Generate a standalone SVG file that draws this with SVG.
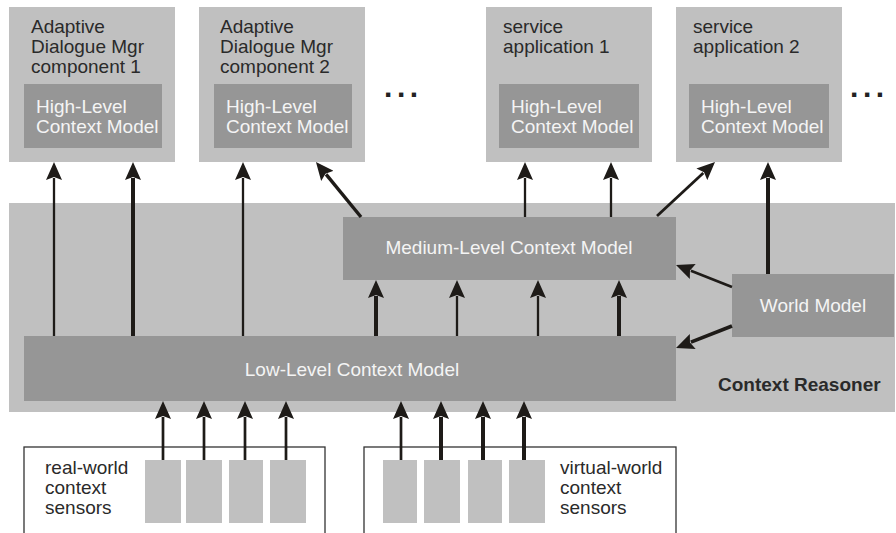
<svg xmlns="http://www.w3.org/2000/svg" width="896" height="533" viewBox="0 0 896 533">
<style>
.light{fill:#c0c0c0}
.dark{fill:#969696}
.t{font-family:"Liberation Sans",Arial,sans-serif;font-size:19px;fill:#2a2a2a}
.w{font-family:"Liberation Sans",Arial,sans-serif;font-size:19px;fill:#f4f4f4}
.b{font-family:"Liberation Sans",Arial,sans-serif;font-size:19px;font-weight:bold;fill:#2a2a2a}
.dots{font-family:"Liberation Sans",Arial,sans-serif;font-size:30px;font-weight:bold;fill:#222;letter-spacing:4.6px}
.outline{fill:none;stroke:#333;stroke-width:1.3}
.a{stroke:#1e1b18;fill:none;marker-end:url(#ah)}
.thin{stroke-width:2.3}
.thick{stroke-width:4}
</style>
<defs>
<marker id="ah" viewBox="0 0 18 16" markerWidth="18" markerHeight="16" markerUnits="userSpaceOnUse" refX="2" refY="8" orient="auto">
<path d="M0,0 L18,8 L0,16 L3,8 Z" fill="#1e1b18"/>
</marker>
</defs>
<rect width="896" height="533" fill="#fff"/>

<g id="context-reasoner">
<rect class="light" x="9" y="203" width="886" height="209"/>
<text class="b" x="718" y="391">Context Reasoner</text>
</g>

<g id="adm1">
<rect class="light" x="9" y="7" width="166" height="155"/>
<text class="t" x="31" y="33">Adaptive</text>
<text class="t" x="31" y="53">Dialogue Mgr</text>
<text class="t" x="31" y="73">component 1</text>
<rect class="dark" x="24" y="84" width="138" height="64"/>
<text class="w" x="36" y="113">High-Level</text>
<text class="w" x="36" y="133">Context Model</text>
</g>

<g id="adm2">
<rect class="light" x="199" y="7" width="166" height="155"/>
<text class="t" x="220" y="33">Adaptive</text>
<text class="t" x="220" y="53">Dialogue Mgr</text>
<text class="t" x="220" y="73">component 2</text>
<rect class="dark" x="214" y="84" width="138" height="64"/>
<text class="w" x="226" y="113">High-Level</text>
<text class="w" x="226" y="133">Context Model</text>
</g>

<g id="dots1"><text class="dots" x="384" y="97">...</text></g>

<g id="service1">
<rect class="light" x="486" y="7" width="166" height="155"/>
<text class="t" x="503" y="33">service</text>
<text class="t" x="503" y="53">application 1</text>
<rect class="dark" x="499" y="84" width="140" height="64"/>
<text class="w" x="511" y="113">High-Level</text>
<text class="w" x="511" y="133">Context Model</text>
</g>

<g id="service2">
<rect class="light" x="676" y="7" width="166" height="155"/>
<text class="t" x="693" y="33">service</text>
<text class="t" x="693" y="53">application 2</text>
<rect class="dark" x="689" y="84" width="140" height="64"/>
<text class="w" x="701" y="113">High-Level</text>
<text class="w" x="701" y="133">Context Model</text>
</g>

<g id="dots2"><text class="dots" x="850" y="97">...</text></g>

<g id="medium">
<rect class="dark" x="343" y="217" width="333" height="63"/>
<text class="w" x="509" y="254" text-anchor="middle">Medium-Level Context Model</text>
</g>

<g id="world">
<rect class="dark" x="732" y="274" width="162" height="63"/>
<text class="w" x="813" y="312" text-anchor="middle">World Model</text>
</g>

<g id="low">
<rect class="dark" x="24" y="336" width="652" height="65"/>
<text class="w" x="352" y="376" text-anchor="middle">Low-Level Context Model</text>
</g>

<g id="real-sensors">
<rect class="outline" x="24" y="447" width="301" height="100"/>
<text class="t" x="45" y="474">real-world</text>
<text class="t" x="45" y="494">context</text>
<text class="t" x="45" y="514">sensors</text>
<rect class="light" x="145" y="460" width="36" height="63"/>
<rect class="light" x="186" y="460" width="36" height="63"/>
<rect class="light" x="229" y="460" width="34" height="63"/>
<rect class="light" x="270" y="460" width="36" height="63"/>
</g>

<g id="virtual-sensors">
<rect class="outline" x="364" y="447" width="312" height="100"/>
<text class="t" x="560" y="474">virtual-world</text>
<text class="t" x="560" y="494">context</text>
<text class="t" x="560" y="514">sensors</text>
<rect class="light" x="383" y="460" width="34" height="63"/>
<rect class="light" x="424" y="460" width="36" height="63"/>
<rect class="light" x="468" y="460" width="34" height="63"/>
<rect class="light" x="509" y="460" width="36" height="63"/>
</g>

<g id="connectors">
<line class="a thin" x1="54" y1="336" x2="54" y2="178"/>
<line class="a thick" x1="133" y1="336" x2="133" y2="178"/>
<line class="a thin" x1="243" y1="336" x2="243" y2="178"/>
<line class="a thick" x1="361" y1="217" x2="326.1" y2="174.4" style="stroke-width:3.4"/>
<line class="a thin" x1="525" y1="217" x2="525" y2="178"/>
<line class="a thin" x1="611" y1="217" x2="611" y2="178"/>
<line class="a thin" x1="657" y1="216" x2="703.3" y2="172.9" style="stroke-width:2.8"/>
<line class="a thick" x1="768" y1="274" x2="768" y2="178"/>
<line class="a thick" x1="376" y1="336" x2="376" y2="296"/>
<line class="a thin" x1="457" y1="336" x2="457" y2="296"/>
<line class="a thin" x1="538" y1="336" x2="538" y2="296"/>
<line class="a thick" x1="619" y1="336" x2="619" y2="296"/>
<line class="a thin" x1="732" y1="287" x2="690.9" y2="270.8" style="stroke-width:2.6"/>
<line class="a thick" x1="732" y1="326" x2="690.9" y2="342.2" style="stroke-width:3.6"/>
<line class="a thin" x1="163" y1="460" x2="163" y2="417" style="stroke-width:2.7"/>
<line class="a thin" x1="204" y1="460" x2="204" y2="417" style="stroke-width:2.7"/>
<line class="a thin" x1="245" y1="460" x2="245" y2="417" style="stroke-width:2.7"/>
<line class="a thin" x1="286" y1="460" x2="286" y2="417" style="stroke-width:2.7"/>
<line class="a thin" x1="401" y1="460" x2="401" y2="417" style="stroke-width:2.7"/>
<line class="a thick" x1="441" y1="460" x2="441" y2="417"/>
<line class="a thick" x1="483" y1="460" x2="483" y2="417"/>
<line class="a thick" x1="524" y1="460" x2="524" y2="417"/>
</g>
</svg>
